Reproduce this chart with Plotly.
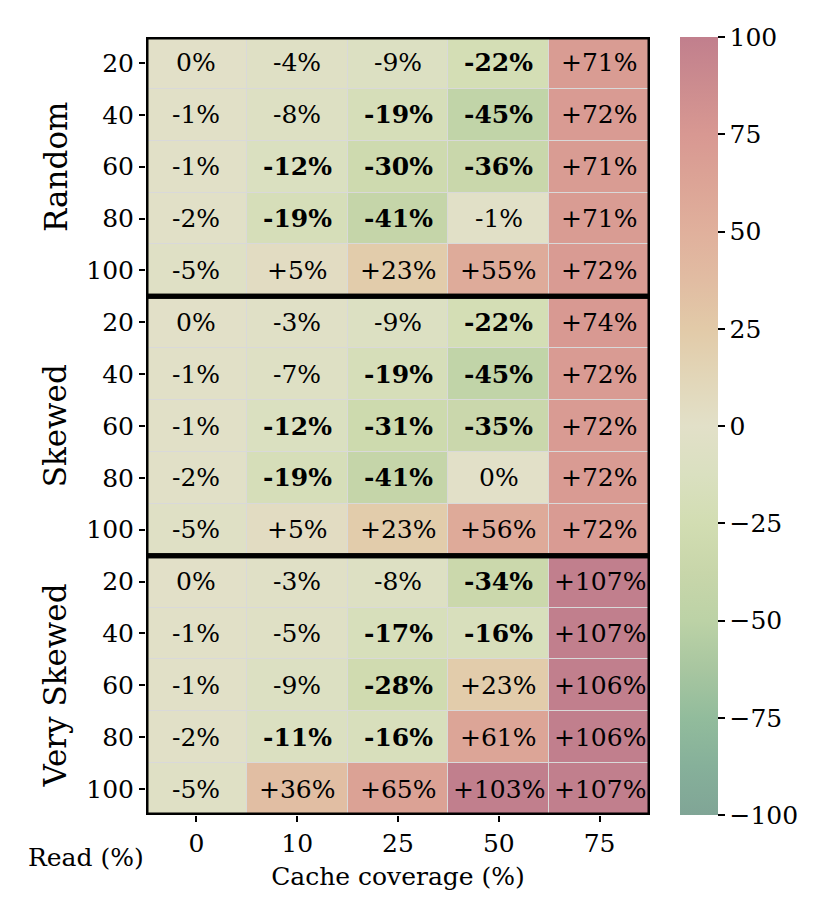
import plotly.graph_objects as go

# cache coverage (%) columns, read (%) rows, three key distributions
coverage = ["0", "10", "25", "50", "75"]
read_pct = ["20", "40", "60", "80", "100"]
groups = ["Random", "Skewed", "Very Skewed"]

random_vals = [
    [0, -4, -9, -22, 71],
    [-1, -8, -19, -45, 72],
    [-1, -12, -30, -36, 71],
    [-2, -19, -41, -1, 71],
    [-5, 5, 23, 55, 72],
]
skewed_vals = [
    [0, -3, -9, -22, 74],
    [-1, -7, -19, -45, 72],
    [-1, -12, -31, -35, 72],
    [-2, -19, -41, 0, 72],
    [-5, 5, 23, 56, 72],
]
very_skewed_vals = [
    [0, -3, -8, -34, 107],
    [-1, -5, -17, -16, 107],
    [-1, -9, -28, 23, 106],
    [-2, -11, -16, 61, 106],
    [-5, 36, 65, 103, 107],
]

cbar_ticks = [100, 75, 50, 25, 0, -25, -50, -75, -100]

FONT = "DejaVu Serif"
FS = 25
SCALE = [
    [0.0, "#80a596"], [0.0625, "#86b09a"], [0.125, "#92bc9c"], [0.1875, "#a8c6a0"],
    [0.25, "#bcd2a6"], [0.3125, "#c8d6aa"], [0.375, "#d2ddb2"], [0.4375, "#dae0c0"],
    [0.5, "#e2e0c8"], [0.5625, "#e2d6b8"], [0.625, "#e2caa8"], [0.6875, "#e1bca2"],
    [0.75, "#e0b09c"], [0.8125, "#dca496"], [0.875, "#d89892"], [0.9375, "#cc8c8f"],
    [1.0, "#c17f8d"],
]

z = random_vals + skewed_vals + very_skewed_vals
nrow = len(z)

fig = go.Figure(go.Heatmap(
    z=z, x=list(range(len(coverage))), y=list(range(nrow)),
    zmin=-100, zmax=100, colorscale=SCALE, xgap=1, ygap=1,
    colorbar=dict(x=1.06, xanchor="left", xpad=0, ypad=0, thickness=38,
                  len=1, y=0.5, outlinewidth=0, tickvals=cbar_ticks,
                  ticks="outside", ticklen=7, tickwidth=2, tickcolor="black",
                  tickfont=dict(family=FONT, size=FS, color="black")),
    hoverinfo="z",
))

# cell labels, bold where the drop is 10% or more
for i, row in enumerate(z):
    for j, v in enumerate(row):
        s = f"+{v}%" if v > 0 else f"{v}%"
        if v <= -10:
            s = f"<b>{s}</b>"
        fig.add_annotation(x=j, y=i, text=s, showarrow=False,
                           font=dict(family=FONT, size=FS, color="black"))

# thick frame around each distribution block
for g, name in enumerate(groups):
    y0 = g * len(read_pct) - 0.5
    y1 = y0 + len(read_pct)
    fig.add_shape(type="rect", x0=-0.5, x1=len(coverage) - 0.5, y0=y0, y1=y1,
                  xref="x", yref="y", line=dict(color="black", width=5))
    fig.add_annotation(x=-0.18, xref="paper", xanchor="center",
                       y=(y0 + y1) / 2, yref="y", yanchor="middle",
                       text=name, textangle=-90, showarrow=False,
                       font=dict(family=FONT, size=31, color="black"))

fig.add_annotation(x=-0.12, xref="paper", xanchor="center",
                   y=-0.054, yref="paper", yanchor="middle", text="Read (%)",
                   showarrow=False, font=dict(family=FONT, size=FS, color="black"))

fig.update_xaxes(tickvals=list(range(len(coverage))), ticktext=coverage,
                 range=[-0.5, len(coverage) - 0.5], ticks="outside", ticklen=6,
                 tickwidth=2, tickcolor="black", showgrid=False, zeroline=False,
                 tickfont=dict(family=FONT, size=FS, color="black"),
                 title=dict(text="Cache coverage (%)", standoff=10,
                            font=dict(family=FONT, size=FS, color="black")))
fig.update_yaxes(tickvals=list(range(nrow)), ticktext=read_pct * len(groups),
                 range=[nrow - 0.5, -0.5], ticks="outside", ticklen=6,
                 tickwidth=2, tickcolor="black", showgrid=False, zeroline=False,
                 tickfont=dict(family=FONT, size=FS, color="black"))

fig.update_layout(width=830, height=923,
                  margin=dict(l=138, r=188, t=29, b=116, autoexpand=False),
                  plot_bgcolor="#d9d9d9", paper_bgcolor="white",
                  font=dict(family=FONT, color="black"))

fig.write_html("out.html")
